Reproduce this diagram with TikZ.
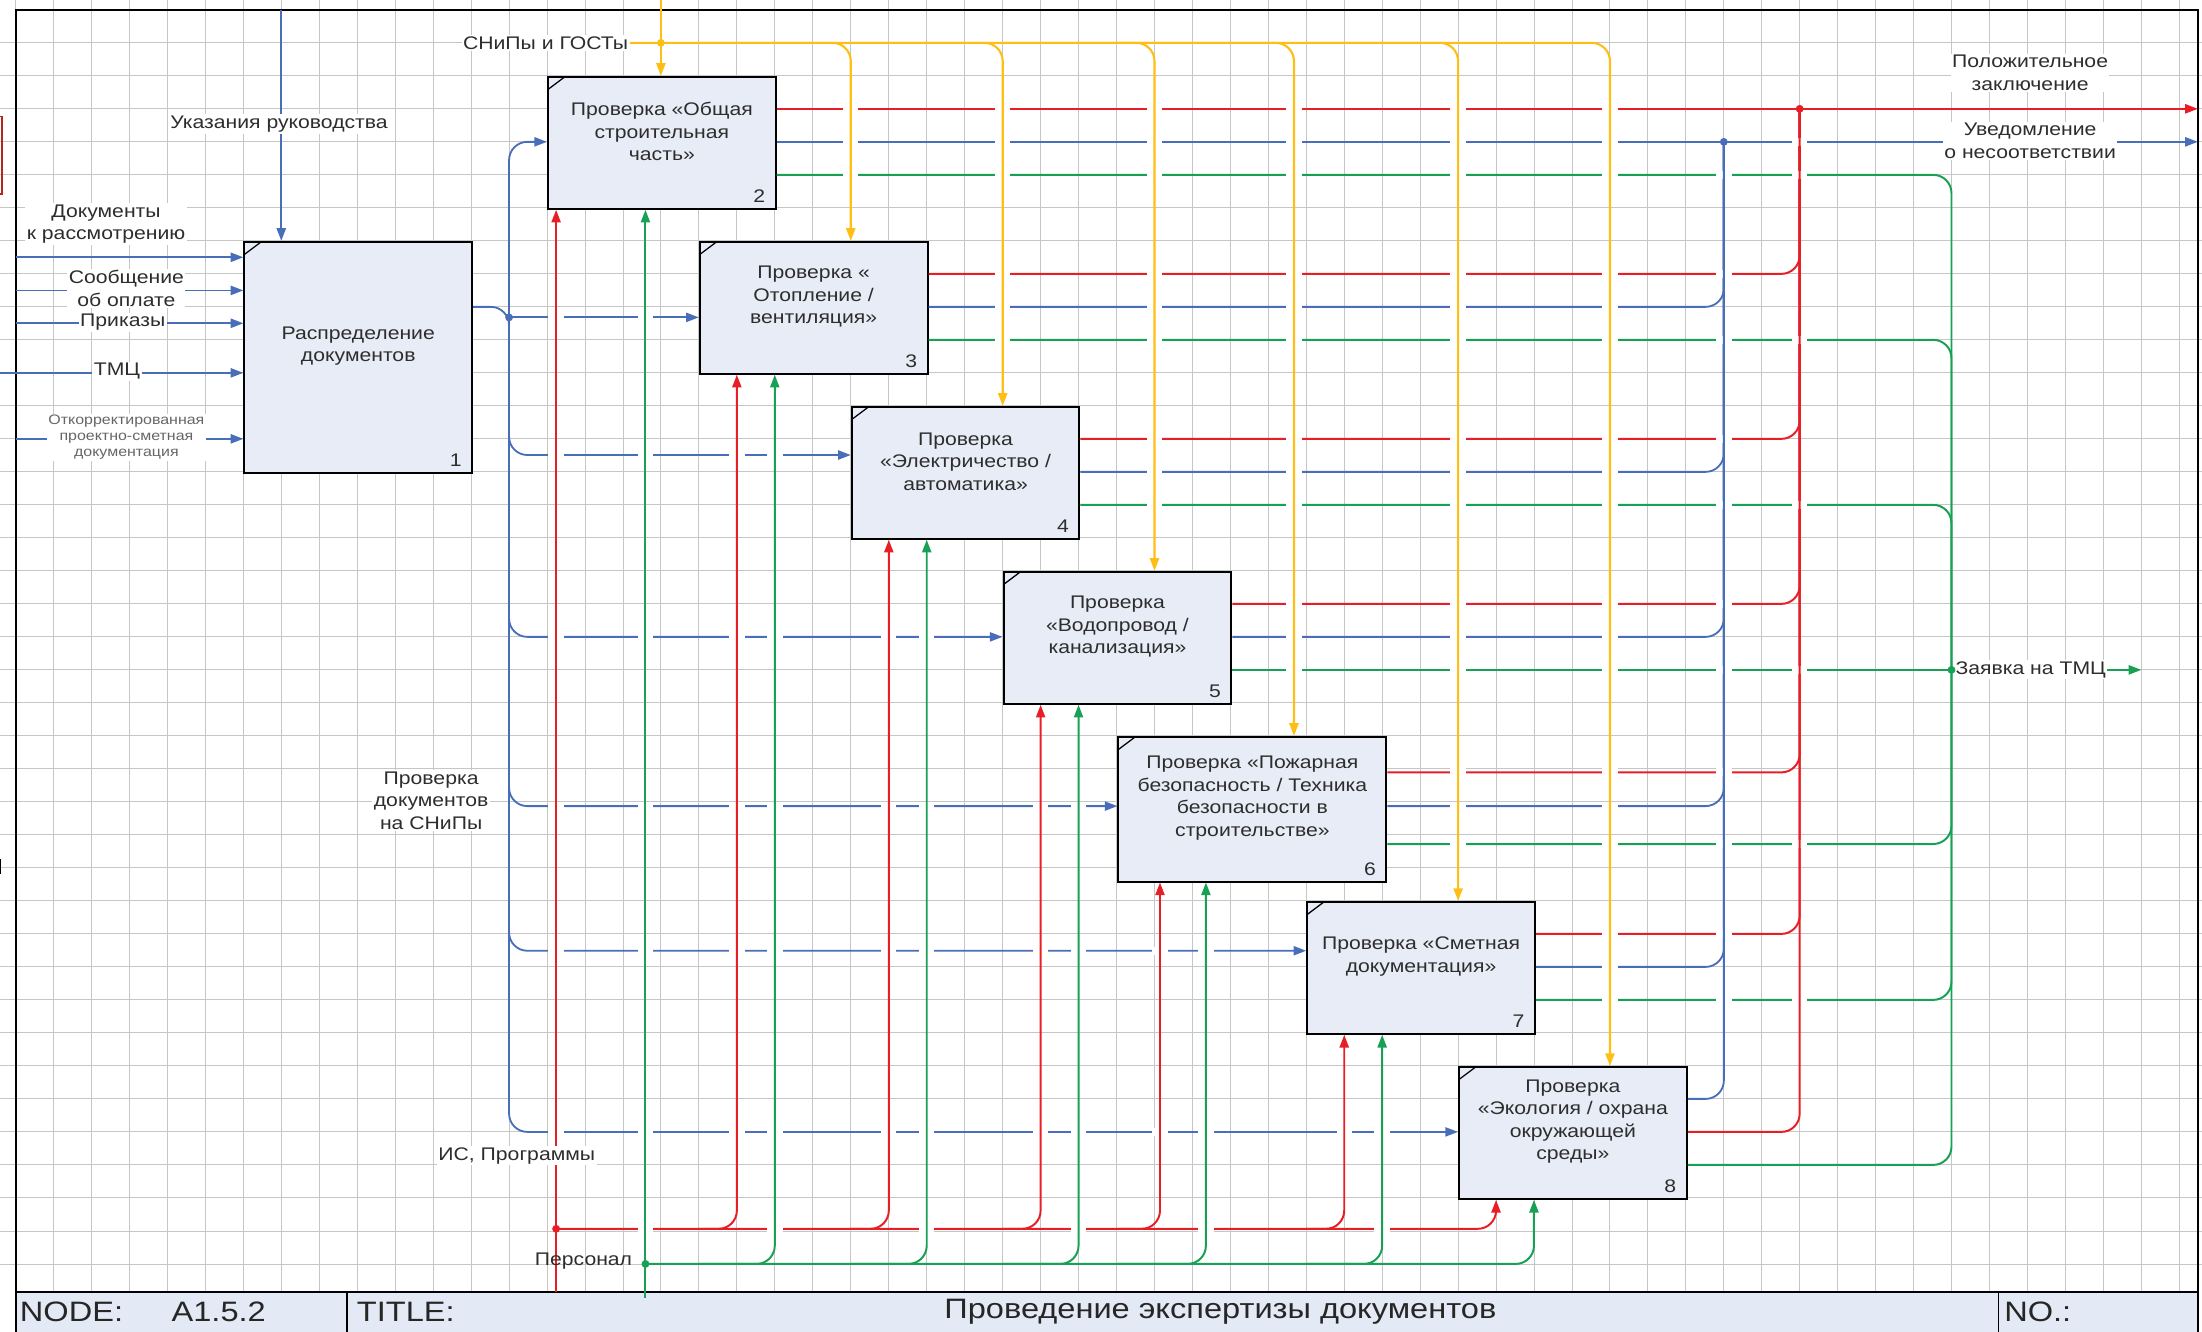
\documentclass[tikz,border=0pt]{standalone}
\usepackage{fontspec}
\setmainfont{Liberation Sans}[FakeStretch=1.16]
\usetikzlibrary{arrows.meta}
\definecolor{cred}{RGB}{232,30,38}
\definecolor{cblue}{RGB}{72,110,185}
\definecolor{cgreen}{RGB}{24,160,84}
\definecolor{cyellow}{RGB}{255,190,20}
\definecolor{boxfill}{RGB}{232,236,246}
\definecolor{barfill}{RGB}{228,234,245}
\definecolor{gridcol}{RGB}{198,198,198}
\definecolor{txt}{RGB}{45,45,45}
\tikzset{%
  box/.style 2 args = {draw, line width=1.4pt, fill=boxfill, rectangle, anchor=north west,
    inner sep=0pt, minimum width=#1, minimum height=#2,
    path picture={\draw[line width=0.9pt] ([yshift=-9pt]path picture bounding box.north west) -- ([xshift=12pt]path picture bounding box.north west);}},
  boxtext/.style  = {align=center, text=txt, font=\fontsize{13}{16}\selectfont},
  num/.style      = {anchor=south east, inner sep=0pt, text=txt, font=\fontsize{13}{16}\selectfont},
  lbl/.style      = {fill=white, inner sep=1pt, align=center, text=txt, font=\fontsize{13}{16}\selectfont},
  rl/.style       = {draw=cred, line width=1.4pt},
  bl/.style       = {draw=cblue, line width=1.3pt},
  gl/.style       = {draw=cgreen, line width=1.4pt},
  yl/.style       = {draw=cyellow, line width=1.5pt},
  tip/.style      = {-{Triangle[length=9pt,width=6.5pt]}},
  rc/.style       = {rounded corners=13pt},
  gap/.style      = {fill=white},
  gridline/.style = {draw=gridcol, line width=0.6pt},
  bartext/.style  = {anchor=west, inner sep=1pt, text=black!85, font=\fontsize{20}{24}\selectfont}
}
\begin{document}
\begin{tikzpicture}[x=1pt, y=-1pt]
    \useasboundingbox (0,0) rectangle (1568,948);

    %grid
    \foreach \i in {0,...,57} \draw[gridline] ({11.1+27.03*\i},0) -- ({11.1+27.03*\i},920);
    \foreach \j in {1,...,38} \draw[gridline] (0,{7+23.5*\j}) -- (1568,{7+23.5*\j});

    %frame and title bar
    \draw[line width=1.4pt] (11.1,960) -- (11.1,7) -- (1565,7) -- (1565,960);
    \filldraw[line width=1.4pt, fill=barfill] (11.1,920) rectangle (1565,960);
    \draw[line width=1.2pt] (247,920) -- (247,960);
    \draw[line width=1.2pt] (1423,920) -- (1423,960);
    \node[bartext] (nodelbl) at (13,934) {NODE:};
    \node[bartext] (nodeno) at (121,934) {A1.5.2};
    \node[bartext] (titlelbl) at (253,934) {TITLE:};
    \node[text=black!85, font=\fontsize{20}{24}\selectfont] (title) at (869,934) {Проведение экспертизы документов};
    \node[bartext] (nolbl) at (1426,934) {NO.:};
    \draw[color={rgb,255:red,178;green,40;blue,30}, line width=1pt] (0,83) -- (1.5,83) -- (1.5,138) -- (0,138);
    \draw[line width=1pt] (0.5,612) -- (0.5,622);

    %boxes
    \node[box={162.2pt}{164.5pt}] (b1) at (173.3,171.5) {};
    \node[boxtext] at ([yshift=8pt]b1.center) {Распределение\\документов};
    \node[num] at ([xshift=-8pt,yshift=5pt]b1.south east) {1};

    \node[box={162.2pt}{94pt}] (b2) at (389.5,54) {};
    \node[boxtext] at ([yshift=8pt]b2.center) {Проверка «Общая\\строительная\\часть»};
    \node[num] at ([xshift=-8pt,yshift=5pt]b2.south east) {2};

    \node[box={162.2pt}{94pt}] (b3) at (497.6,171.5) {};
    \node[boxtext] at ([yshift=8pt]b3.center) {Проверка «\\Отопление /\\вентиляция»};
    \node[num] at ([xshift=-8pt,yshift=5pt]b3.south east) {3};

    \node[box={162.1pt}{94pt}] (b4) at (605.8,289) {};
    \node[boxtext] at ([yshift=8pt]b4.center) {Проверка\\«Электричество /\\автоматика»};
    \node[num] at ([xshift=-8pt,yshift=5pt]b4.south east) {4};

    \node[box={162.2pt}{94pt}] (b5) at (713.9,406.5) {};
    \node[boxtext] at ([yshift=8pt]b5.center) {Проверка\\«Водопровод /\\канализация»};
    \node[num] at ([xshift=-8pt,yshift=5pt]b5.south east) {5};

    \node[box={190.8pt}{103pt}] (b6) at (795.7,524) {};
    \node[boxtext] at ([yshift=8pt]b6.center) {Проверка «Пожарная\\безопасность / Техника\\безопасности в\\строительстве»};
    \node[num] at ([xshift=-8pt,yshift=5pt]b6.south east) {6};

    \node[box={162.2pt}{94pt}] (b7) at (930.1,641.5) {};
    \node[boxtext] at ([yshift=8pt]b7.center) {Проверка «Сметная\\документация»};
    \node[num] at ([xshift=-8pt,yshift=5pt]b7.south east) {7};

    \node[box={162.2pt}{94pt}] (b8) at (1038.2,759) {};
    \node[boxtext] at ([yshift=8pt]b8.center) {Проверка\\«Экология / охрана\\окружающей\\среды»};
    \node[num] at ([xshift=-8pt,yshift=5pt]b8.south east) {8};

    %end points
    \coordinate (ctltop) at (200.3,7);
    \coordinate (in1) at (11.1,183.2);
    \coordinate (in2) at (11.1,206.8);
    \coordinate (in3) at (11.1,230.2);
    \coordinate (in4) at (0,265.5);
    \coordinate (in5) at (11.1,312.5);
    \coordinate (tdot) at (362.5,226);
    \coordinate (ytop) at (470.6,0);
    \coordinate (ydot) at (470.6,30.5);
    \coordinate (ystart) at (448,30.5);
    \coordinate (isbot) at (396,920);
    \coordinate (rbus) at (396,875);
    \coordinate (pbot) at (459.6,924);
    \coordinate (gbus) at (459.6,900);
    \coordinate (rtop) at (1281.5,77.5);
    \coordinate (btop) at (1227.5,101);
    \coordinate (gdot) at (1389.6,477);
    \coordinate (rend) at (1565,77.5);
    \coordinate (bend) at (1565,101);
    \coordinate (gend) at (1524.8,477);

    %inputs and control of box 1
    \draw[bl, tip] (ctltop) -- (ctltop |- b1.north);
    \draw[bl, tip] (in1) -- (in1 -| b1.west);
    \draw[bl, tip] (in2) -- (in2 -| b1.west);
    \draw[bl, tip] (in3) -- (in3 -| b1.west);
    \draw[bl, tip] (in4) -- (in4 -| b1.west);
    \draw[bl, tip] (in5) -- (in5 -| b1.west);

    %blue inputs from box 1
    \draw[bl, rc] ([yshift=-47pt]b1.north east) -| ([yshift=-14pt]tdot);
    \draw[bl, tip, rc] (tdot) |- ([yshift=-47pt]b2.north west);
    \draw[bl, tip] (tdot) -- (tdot -| b3.west);
    \draw[bl, tip, rc] (tdot) |- ([yshift=-35pt]b4.north west);
    \draw[bl, tip, rc] (tdot) |- ([yshift=-47pt]b5.north west);
    \draw[bl, tip, rc] (tdot) |- ([yshift=-50pt]b6.north west);
    \draw[bl, tip, rc] (tdot) |- ([yshift=-35.5pt]b7.north west);
    \draw[bl, tip, rc] (tdot) |- ([yshift=-47pt]b8.north west);

    %outputs of box 2
    \draw[rl, tip] ([yshift=-23.5pt]b2.north east) -- (rend);
    \draw[bl, tip] ([yshift=-47pt]b2.north east) -- (bend);
    \draw[gl, rc] ([yshift=-70.5pt]b2.north east) -| (gdot);

    %outputs of boxes 3 to 7
    \draw[rl, rc] ([yshift=-23.5pt]b3.north east) -| (rtop);
    \draw[bl, rc] ([yshift=-47pt]b3.north east) -| (btop);
    \draw[gl, rc] ([yshift=-70.5pt]b3.north east) -| (gdot);
    \draw[rl, rc] ([yshift=-23.5pt]b4.north east) -| (rtop);
    \draw[bl, rc] ([yshift=-47pt]b4.north east) -| (btop);
    \draw[gl, rc] ([yshift=-70.5pt]b4.north east) -| (gdot);
    \draw[rl, rc] ([yshift=-23.5pt]b5.north east) -| (rtop);
    \draw[bl, rc] ([yshift=-47pt]b5.north east) -| (btop);
    \draw[gl, tip] ([yshift=-70.5pt]b5.north east) -- (gend);
    \draw[rl, rc] ([yshift=-26pt]b6.north east) -| (rtop);
    \draw[bl, rc] ([yshift=-50pt]b6.north east) -| (btop);
    \draw[gl, rc] ([yshift=-77pt]b6.north east) -| (gdot);
    \draw[rl, rc] ([yshift=-23.5pt]b7.north east) -| (rtop);
    \draw[bl, rc] ([yshift=-47pt]b7.north east) -| (btop);
    \draw[gl, rc] ([yshift=-70.5pt]b7.north east) -| (gdot);

    %red bus
    \draw[rl, tip, rc] (rbus) -| ([xshift=27.1pt]b8.south west);

    %line jumps
    \foreach \y/\xs in {226/{396,459.6}, 324/{396,459.6,524.7,551.7},
        453.5/{396,459.6,524.7,551.7,632.8,659.8},
        574/{396,459.6,524.7,551.7,632.8,659.8,740.9,767.9},
        677/{396,459.6,524.7,551.7,632.8,659.8,740.9,767.9,826,858.7},
        806/{396,459.6,524.7,551.7,632.8,659.8,740.9,767.9,826,858.7,957.2,984.2},
        77.5/{605.8,713.9,822,921.4,1038.2,1146.4}, 101/{605.8,713.9,822,921.4,1038.2,1146.4,1281.5},
        124.5/{605.8,713.9,822,921.4,1038.2,1146.4,1227.5,1281.5},
        195/{713.9,822,921.4,1038.2,1146.4,1227.5}, 218.5/{713.9,822,921.4,1038.2,1146.4},
        242/{713.9,822,921.4,1038.2,1146.4,1227.5,1281.5},
        312.5/{822,921.4,1038.2,1146.4,1227.5}, 336/{822,921.4,1038.2,1146.4},
        359.5/{822,921.4,1038.2,1146.4,1227.5,1281.5},
        430/{921.4,1038.2,1146.4,1227.5}, 453.5/{921.4,1038.2,1146.4},
        477/{921.4,1038.2,1146.4,1227.5,1281.5},
        550/{1038.2,1146.4,1227.5}, 574/{1038.2,1146.4}, 601/{1038.2,1146.4,1227.5,1281.5},
        665/{1146.4,1227.5}, 688.5/{1146.4}, 712/{1146.4,1227.5,1281.5},
        875/{459.6,551.7,659.8,767.9,858.7,984.2}}
      \foreach \x in \xs \fill[gap] ({\x-5.5},{\y-2.8}) rectangle ({\x+5.5},{\y+2.8});

    %outputs of box 8
    \draw[bl, rc] ([yshift=-23.5pt]b8.north east) -| (btop);
    \draw[rl, rc] ([yshift=-47pt]b8.north east) -| (rtop);
    \draw[gl, rc] ([yshift=-70.5pt]b8.north east) -| (gdot);

    %SNiP
    \draw[yl, tip] (ytop) -- (ytop |- b2.north);
    \draw[yl, tip, rc] (ystart) -| ([xshift=108.2pt]b8.north west);
    \draw[yl, tip, rc] (ydot -| b3.north west) -| ([xshift=108.2pt]b3.north west);
    \draw[yl, tip, rc] (ydot -| b4.north west) -| ([xshift=108.2pt]b4.north west);
    \draw[yl, tip, rc] (ydot -| b5.north west) -| ([xshift=108.2pt]b5.north west);
    \draw[yl, tip, rc] (ydot -| b6.north west) -| ([xshift=125.7pt]b6.north west);
    \draw[yl, tip, rc] (ydot -| b7.north west) -| ([xshift=108.2pt]b7.north west);

    %programs
    \draw[rl, tip] (isbot) -- (isbot |- b2.south);
    \draw[rl, tip, rc] (rbus -| b3.south west) -| ([xshift=27.1pt]b3.south west);
    \draw[rl, tip, rc] (rbus -| b4.south west) -| ([xshift=27.1pt]b4.south west);
    \draw[rl, tip, rc] (rbus -| b5.south west) -| ([xshift=27.1pt]b5.south west);
    \draw[rl, tip, rc] (rbus -| b6.south west) -| ([xshift=30.3pt]b6.south west);
    \draw[rl, tip, rc] (rbus -| b7.south west) -| ([xshift=27.1pt]b7.south west);

    %staff
    \draw[gl, tip] (pbot) -- (pbot |- b2.south);
    \draw[gl, tip, rc] (gbus) -| ([xshift=54.1pt]b8.south west);
    \draw[gl, tip, rc] (gbus -| b3.south west) -| ([xshift=54.1pt]b3.south west);
    \draw[gl, tip, rc] (gbus -| b4.south west) -| ([xshift=54.1pt]b4.south west);
    \draw[gl, tip, rc] (gbus -| b5.south west) -| ([xshift=54.1pt]b5.south west);
    \draw[gl, tip, rc] (gbus -| b6.south west) -| ([xshift=63pt]b6.south west);
    \draw[gl, tip, rc] (gbus -| b7.south west) -| ([xshift=54.1pt]b7.south west);

    %labels
    \node[lbl] (ldir) at (198.7,88.3) {Указания руководства};
    \node[lbl] (ldoc) at (75.5,159.4) {Документы\\к рассмотрению};
    \node[lbl] (lpay) at (90,205.5) {Сообщение\\об оплате};
    \node[lbl] (lord) at (87.4,229.5) {Приказы};
    \node[lbl] (ltmc) at (83.3,264.5) {ТМЦ};
    \node[lbl, text=black!60, font=\fontsize{9.8}{11.5}\selectfont] (lcor) at (90,311.5) {Откорректированная\\проектно-сметная\\документация};
    \node[lbl] (lsnip) at (388.5,30.5) {СНиПы и ГОСТы};
    \node[lbl] (lpos) at (1445.6,52) {Положительное\\заключение};
    \node[lbl] (lnot) at (1445.6,100.3) {Уведомление\\о несоответствии};
    \node[lbl] (lreq) at (1446,477) {Заявка на ТМЦ};
    \node[lbl] (lchk) at (307,570) {Проверка\\документов\\на СНиПы};
    \node[lbl] (lis) at (368,823) {ИС, Программы};
    \node[lbl, fill=none] (lstaff) at (415.5,898) {Персонал};

    %junctions
    \fill[cblue] (tdot) circle (2.8pt);
    \fill[cyellow] (ydot) circle (2.8pt);
    \fill[cred] (rbus) circle (2.8pt);
    \fill[cgreen] (gbus) circle (2.8pt);
    \fill[cred] (rtop) circle (2.8pt);
    \fill[cblue] (btop) circle (2.8pt);
    \fill[cgreen] (gdot) circle (2.8pt);
\end{tikzpicture}
\end{document}
